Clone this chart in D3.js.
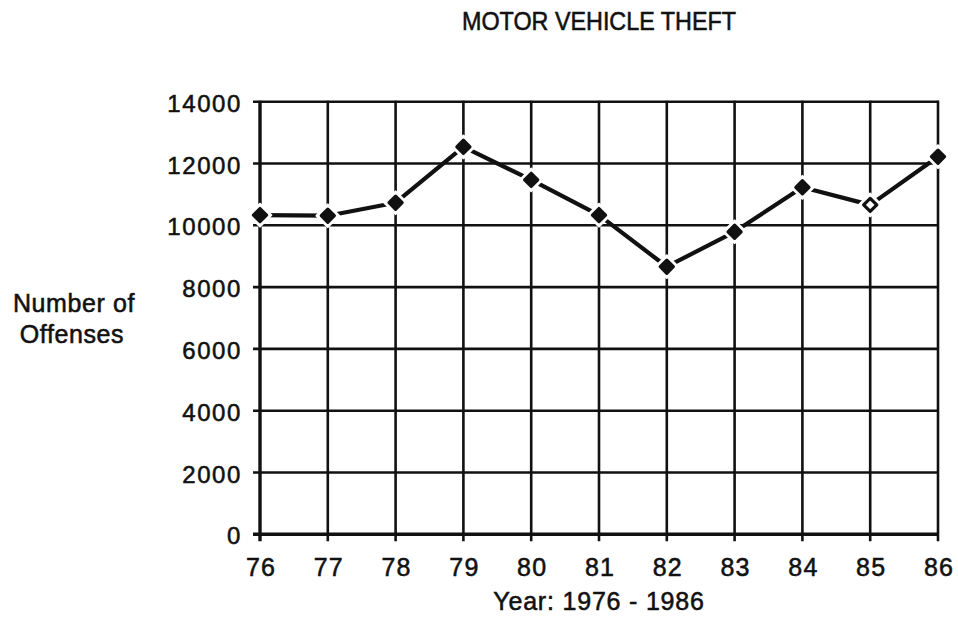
<!DOCTYPE html>
<html>
<head>
<meta charset="utf-8">
<script src="https://cdn.jsdelivr.net/npm/d3@7"></script>
<style>
  html, body { margin: 0; padding: 0; background: #fff; }
  svg { display: block; }
  text { font-family: "Liberation Sans", Arial, Helvetica, sans-serif; fill: #111; stroke: #111; stroke-width: 0.55; }
</style>
</head>
<body>
<svg id="chart" width="958" height="619"></svg>
<script>
// Motor vehicle thefts per year, 1976-1986
const years = ["76", "77", "78", "79", "80", "81", "82", "83", "84", "85", "86"];
const offenses = [10330, 10310, 10730, 12540, 11470, 10330, 8660, 9790, 11230, 10660, 12220];
// 1985 is drawn with an open marker
const openMarker = [false, false, false, false, false, false, false, false, false, true, false];
const yTicks = [0, 2000, 4000, 6000, 8000, 10000, 12000, 14000];

const svg = d3.select("#chart");
const x0 = 260, x1 = 938, yTop = 101.7, yBot = 534.3;

const x = d3.scalePoint().domain(years).range([x0, x1]);
const y = d3.scaleLinear().domain([0, 14000]).range([yBot, yTop]);

const ink = "#111";

// Title
svg.append("text")
  .attr("x", 599).attr("y", 30)
  .attr("text-anchor", "middle")
  .attr("font-size", 26)
  .attr("textLength", 274)
  .attr("lengthAdjust", "spacingAndGlyphs")
  .text("MOTOR VEHICLE THEFT");

// Horizontal grid lines (with small tick stubs to the left)
svg.append("g")
  .selectAll("line")
  .data(yTicks)
  .join("line")
  .attr("x1", x0 - 7).attr("x2", x1 + 1)
  .attr("y1", d => y(d)).attr("y2", d => y(d))
  .attr("stroke", ink)
  .attr("stroke-width", d => d === 0 ? 3.4 : 2.6);

// Vertical grid lines (with tick stubs below the baseline)
svg.append("g")
  .selectAll("line")
  .data(years)
  .join("line")
  .attr("x1", d => x(d)).attr("x2", d => x(d))
  .attr("y1", yTop - 1).attr("y2", yBot + 7)
  .attr("stroke", ink)
  .attr("stroke-width", (d, i) => i === 0 ? 3.4 : 2.6);

// Y tick labels
svg.append("g")
  .selectAll("text")
  .data(yTicks)
  .join("text")
  .attr("x", 242)
  .attr("y", d => y(d))
  .attr("dy", "0.42em")
  .attr("text-anchor", "end")
  .attr("font-size", 24)
  .attr("letter-spacing", 1.6)
  .text(d => d);

// X tick labels
svg.append("g")
  .selectAll("text")
  .data(years)
  .join("text")
  .attr("x", d => x(d) + 1)
  .attr("y", 576)
  .attr("text-anchor", "middle")
  .attr("font-size", 25)
  .attr("letter-spacing", 1.2)
  .text(d => d);

// Axis titles
svg.append("text")
  .attr("x", 599).attr("y", 610)
  .attr("text-anchor", "middle")
  .attr("font-size", 25)
  .attr("letter-spacing", 0.8)
  .text("Year:  1976  -  1986");

svg.append("text")
  .attr("x", 74).attr("y", 311.7)
  .attr("text-anchor", "middle")
  .attr("font-size", 25)
  .attr("letter-spacing", 0.6)
  .text("Number of");
svg.append("text")
  .attr("x", 72).attr("y", 343.3)
  .attr("text-anchor", "middle")
  .attr("font-size", 25)
  .attr("letter-spacing", 0.6)
  .text("Offenses");

// Data line
const line = d3.line()
  .x((d, i) => x(years[i]))
  .y(d => y(d));

svg.append("path")
  .datum(offenses)
  .attr("d", line)
  .attr("fill", "none")
  .attr("stroke", ink)
  .attr("stroke-width", 4.2)
  .attr("stroke-linejoin", "round");

// Rounded diamond markers with a white halo
const diamond = d3.symbol().type(d3.symbolDiamond2).size(110);
const halo = d3.symbol().type(d3.symbolDiamond2).size(330);

const pts = svg.append("g")
  .selectAll("g")
  .data(offenses)
  .join("g")
  .attr("transform", (d, i) => `translate(${x(years[i])},${y(d)})`);

pts.append("path")
  .attr("d", halo)
  .attr("fill", "#fff")
  .attr("stroke", "#fff")
  .attr("stroke-width", 2)
  .attr("stroke-linejoin", "round");

pts.append("path")
  .attr("d", diamond)
  .attr("fill", (d, i) => openMarker[i] ? "#fff" : ink)
  .attr("stroke", ink)
  .attr("stroke-width", 3.2)
  .attr("stroke-linejoin", "round");
</script>
</body>
</html>
